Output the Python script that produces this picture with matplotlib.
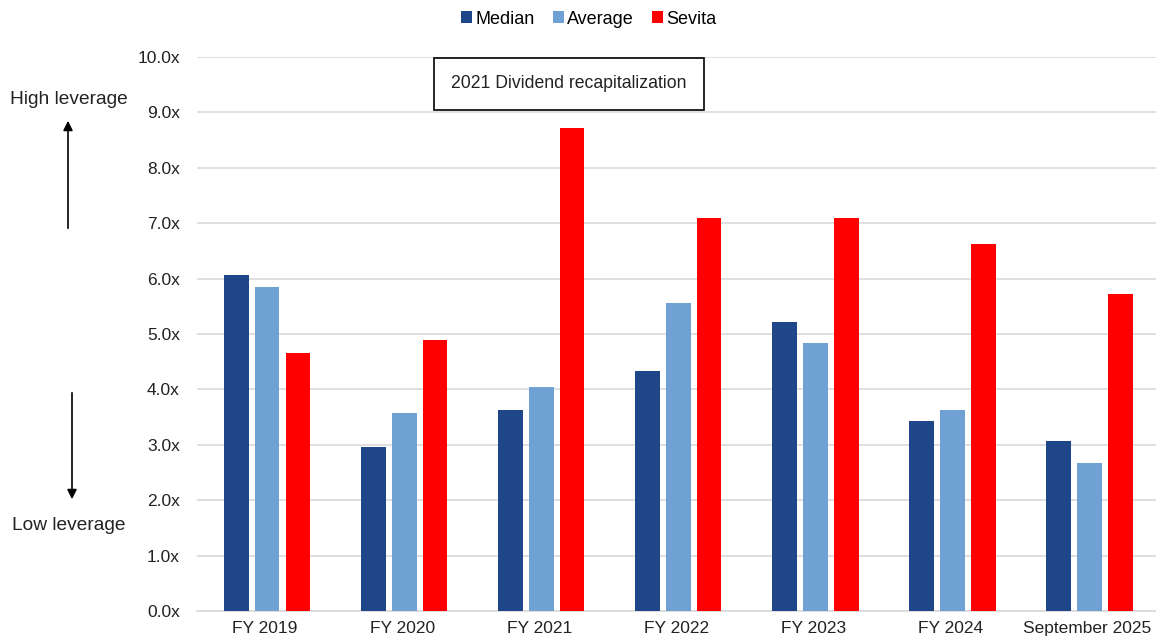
import numpy as np
import matplotlib.pyplot as plt
from matplotlib.patches import Patch

plt.rcParams['font.family'] = ['Liberation Sans', 'DejaVu Sans']

categories = ['FY 2019', 'FY 2020', 'FY 2021', 'FY 2022', 'FY 2023', 'FY 2024', 'September 2025']
median = [6.06, 2.96, 3.63, 4.33, 5.22, 3.43, 3.07]
average = [5.85, 3.57, 4.04, 5.56, 4.84, 3.63, 2.67]
sevita = [4.66, 4.89, 8.72, 7.09, 7.09, 6.62, 5.72]

series_names = ['Median', 'Average', 'Sevita']
colors = ['#1f4688', '#70a1d4', '#ff0000']

fig = plt.figure(figsize=(11.56, 6.38), dpi=100)
ax = fig.add_axes([0.170, 0.042, 0.830, 0.869])

x = np.arange(len(categories))
w = 0.18
step = 0.225
for i, (vals, c) in enumerate(zip([median, average, sevita], colors)):
    ax.bar(x + 0.015 + (i - 1) * step, vals, width=w, color=c, zorder=3)

ax.set_xlim(-0.5, len(categories) - 0.5)
ax.set_ylim(0, 10)
ax.set_yticks(np.arange(0, 11, 1))
ax.set_yticklabels([f'{v:.1f}x' for v in np.arange(0, 11, 1)])
ax.set_xticks(x)
ax.set_xticklabels(categories)
ax.tick_params(axis='both', length=0, labelsize=12.5, colors='#222222', pad=12)
ax.tick_params(axis='x', pad=7)
ax.yaxis.grid(True, color='#d9d9d9', linewidth=1.2, zorder=0)
for s in ['top', 'right', 'left']:
    ax.spines[s].set_visible(False)
ax.spines['bottom'].set_color('#d9d9d9')
ax.spines['bottom'].set_linewidth(1.2)

# annotation box
fig.text(569 / 1156, 1 - 84 / 638, '2021 Dividend recapitalization', ha='center', va='center',
         fontsize=12.7, color='#222222',
         bbox=dict(boxstyle='square,pad=1.0', facecolor='white', edgecolor='black', linewidth=1.2))

# leverage arrows
fig.text(69 / 1156, 1 - 99 / 638, 'High leverage', ha='center', va='center', fontsize=13.8, color='#222222')
fig.text(69 / 1156, 1 - 525 / 638, 'Low leverage', ha='center', va='center', fontsize=13.8, color='#222222')
ann_kw = dict(arrowprops=dict(arrowstyle='-|>', color='black', lw=1.2, mutation_scale=14),
              xycoords='figure fraction', textcoords='figure fraction')
ax.annotate('', xy=(68 / 1156, 1 - 118 / 638), xytext=(68 / 1156, 1 - 231 / 638), **ann_kw)
ax.annotate('', xy=(72 / 1156, 1 - 502 / 638), xytext=(72 / 1156, 1 - 390 / 638), **ann_kw)

handles = [Patch(facecolor=c, label=n) for c, n in zip(colors, series_names)]
fig.legend(handles=handles, loc='center', bbox_to_anchor=(589 / 1156, 1 - 19 / 638), ncol=3,
           frameon=False, fontsize=13, handlelength=0.6, handleheight=0.6, handletextpad=0.2,
           columnspacing=1.0)

fig.savefig('out.png', dpi=100)
